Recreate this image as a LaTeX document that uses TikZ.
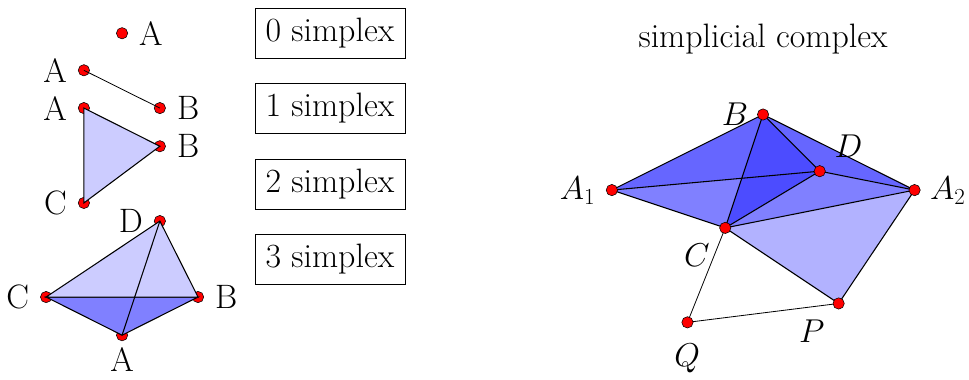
\documentclass[tikz,border=0pt]{standalone}
\usepackage{amsmath,amssymb}
\usepackage{xcolor}
\usetikzlibrary{positioning}

\begin{document}
\begin{tikzpicture}[
    node distance=0.29cm,
    dot/.style={circle, draw=black, fill=red, inner sep=0pt, minimum size=0.3cm},
    label/.style={font=\fontsize{25.5}{30}\selectfont, inner sep=0pt},
    box/.style={rectangle, draw, semithick, minimum width=3.97cm, minimum height=1.32cm,
    font=\fontsize{25.5}{30}\selectfont},
    edge/.style={draw=black, thick},
    face/.style={edge, fill=#1}
]
\useasboundingbox (0,0) rectangle (25.64,10.03);
% simplex boxes
\node[box] (s0) at (8.73,9.15) {0 simplex};
\node[box] (s1) at (8.73,7.17) {1 simplex};
\node[box] (s2) at (8.73,5.16) {2 simplex};
\node[box] (s3) at (8.73,3.17) {3 simplex};
\node[label] (title) at (20.19,9) {simplicial complex};
% 0 simplex
\node[dot] (a0) at (3.23,9.15) {};
\node[label, right=of a0] (la0) {A};
% 1 simplex
\node[dot] (a1) at (2.22,8.17) {};
\node[dot] (b1) at (4.23,7.17) {};
\node[label, left=of a1] (la1) {A};
\node[label, right=of b1] (lb1) {B};
\draw[semithick] (a1.center) -- (b1.center);
% 2 simplex
\node[dot] (a2) at (2.22,7.17) {};
\node[dot] (b2) at (4.23,6.16) {};
\node[dot] (c2) at (2.22,4.66) {};
\node[label, left=of a2] (la2) {A};
\node[label, right=of b2] (lb2) {B};
\node[label, left=of c2] (lc2) {C};
\draw[face=blue!20] (a2.center) -- (b2.center) -- (c2.center) -- cycle;
% 3 simplex
\node[dot] (d3) at (4.23,4.18) {};
\node[dot] (c3) at (1.22,2.17) {};
\node[dot] (b3) at (5.24,2.17) {};
\node[dot] (a3) at (3.23,1.16) {};
\node[label, left=of d3] (ld3) {D};
\node[label, left=of c3] (lc3) {C};
\node[label, right=of b3] (lb3) {B};
\node[label, below=0.17cm of a3] (la3) {A};
\draw[face=blue!50] (c3.center) -- (b3.center) -- (a3.center) -- cycle;
\draw[face=blue!20] (c3.center) -- (b3.center) -- (d3.center) -- cycle;
\draw[edge] (a3.center) -- (d3.center);
% complex
\coordinate (A1) at (16.19,5);
\coordinate (A2) at (24.2,5);
\coordinate (B) at (20.19,7);
\coordinate (C) at (19.19,4);
\coordinate (D) at (21.69,5.5);
\coordinate (P) at (22.19,2);
\coordinate (Q) at (18.19,1.5);
\coordinate (X) at (intersection of A1--D and B--C);
\fill[blue!60] (A1) -- (B) -- (X) -- cycle;
\fill[blue!50] (A1) -- (X) -- (C) -- cycle;
\fill[blue!70] (B) -- (D) -- (C) -- cycle;
\fill[blue!60] (B) -- (A2) -- (D) -- cycle;
\fill[blue!50] (C) -- (D) -- (A2) -- cycle;
\fill[blue!30] (C) -- (A2) -- (P) -- cycle;
\draw[edge] (A1) -- (B) -- (A2) -- (P) -- (C) -- cycle;
\draw[edge] (A1) -- (D) -- (A2) -- (C) -- (D) -- (B) -- (C);
\draw[semithick] (C) -- (Q) -- (P);
\node[dot] (nA1) at (A1) {};
\node[dot] (nA2) at (A2) {};
\node[dot] (nB) at (B) {};
\node[dot] (nC) at (C) {};
\node[dot] (nD) at (D) {};
\node[dot] (nP) at (P) {};
\node[dot] (nQ) at (Q) {};
\node[label] (lA1) at (15.28,4.98) {$A_1$};
\node[label] (lA2) at (25.08,4.98) {$A_2$};
\node[label] (lB) at (19.45,7) {$B$};
\node[label] (lC) at (18.44,3.27) {$C$};
\node[label] (lD) at (22.45,6.15) {$D$};
\node[label] (lP) at (21.48,1.27) {$P$};
\node[label] (lQ) at (18.18,0.55) {$Q$};
\end{tikzpicture}
\end{document}
